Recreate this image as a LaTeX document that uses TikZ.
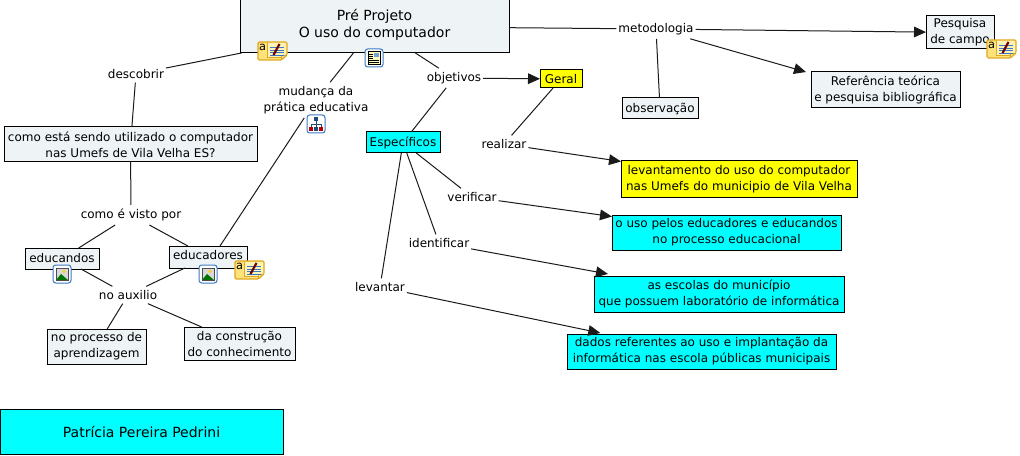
\documentclass[tikz,border=0pt]{standalone}
\usepackage{fontspec}
\setmainfont{DejaVu Sans}
\usetikzlibrary{arrows.meta}
\definecolor{mapfill}{HTML}{EEF4F6}
\definecolor{mapcyan}{HTML}{00FFFF}
\definecolor{mapyellow}{HTML}{FFFF00}
\definecolor{mapline}{HTML}{1A1A1A}
\definecolor{iconblue}{HTML}{3B78C4}
\definecolor{iconnote}{HTML}{FFE27A}
\definecolor{iconpale}{HTML}{FFF3B8}
\definecolor{iconedge}{HTML}{E0A820}
\tikzset{
  conceptbox/.style={draw=black, line width=0.75pt, rectangle, inner sep=0pt, align=center, outer sep=0pt,
    font=\fontsize{9}{12}\selectfont},
  paleconcept/.style={conceptbox, fill=mapfill},
  cyanconcept/.style={conceptbox, fill=mapcyan},
  yellowconcept/.style={conceptbox, fill=mapyellow},
  linkphrase/.style={align=center, inner xsep=1.5pt, inner ysep=3pt, outer sep=0pt, font=\fontsize{9}{12}\selectfont},
  plainlink/.style={draw=mapline, line width=0.75pt},
  arrowlink/.style={plainlink, -{Triangle[length=9pt,width=8pt]}},
  iconframe/.style={draw=iconblue, line width=0.75pt, fill=white, rounded corners=2pt}
}
\newcommand{\conceptnode}[7]{%
  \node[#6, minimum width={(#4-#2)*0.75pt}, minimum height={(#5-#3)*0.75pt}] (#1) at ({(#2+#4)/2},{(#3+#5)/2}) {#7};
}
\newcommand{\noteicon}[3]{%
  \begin{scope}[shift={(#2,#3)}]
    \fill[iconnote, draw=iconedge, line width=0.9pt, rounded corners=1pt] (-14.5,-9) -- (14.5,-9) -- (14.5,4) -- (9,9) -- (-14.5,9) -- cycle;
    \fill[iconpale] (-4.5,-8) -- (13.5,-8) -- (13.5,3.5) -- (8.5,6) -- (-4.5,6) -- cycle;
    \draw[iconedge, line width=0.6pt] (-5,-9) -- (-5,6) -- (9,6) (9,9) -- (9,4) -- (14.5,4);
    \foreach \yy in {-3.5,-1,1.5,4} {\draw[iconblue, line width=0.7pt] (-3,\yy) -- (11,\yy);}
    \draw[black!55!red, line width=1.6pt] (1,4) -- (7,-7);
    \node[font=\fontsize{8.5}{8.5}\selectfont, inner sep=0pt] (#1) at (-10,-3.5) {a};
  \end{scope}
}
\newcommand{\picicon}[2]{%
  \begin{scope}[shift={(#1,#2)}]
    \draw[iconframe] (-9,-9) rectangle (9,9);
    \fill[black!15] (-6,-6) rectangle (6,6);
    \fill[green!45!black] (-6,6) -- (-1,0) -- (6,6) -- cycle;
    \fill[yellow!70!orange] (2,-2.5) circle (1.6);
    \draw[black!70, line width=0.5pt] (-6,-6) rectangle (6,6);
  \end{scope}
}
\newcommand{\docicon}[2]{%
  \begin{scope}[shift={(#1,#2)}]
    \draw[iconframe] (-9,-9) rectangle (9,9);
    \draw[black, line width=0.6pt, fill=yellow!25] (-6,-6.5) rectangle (6,6.5);
    \fill[iconblue!70] (0,-5) rectangle (5,-1);
    \foreach \yy in {-4,-2,0} {\draw[black, line width=0.5pt] (-5,\yy) -- (-1,\yy);}
    \foreach \yy in {2,4} {\draw[black, line width=0.5pt] (-5,\yy) -- (5,\yy);}
  \end{scope}
}
\newcommand{\treeicon}[2]{%
  \begin{scope}[shift={(#1,#2)}]
    \draw[iconframe] (-9,-9) rectangle (9,9);
    \draw[iconblue!60!black, line width=0.6pt] (0,-4) -- (0,4) (-5,0) -- (5,0) (-5,0) -- (-5,4) (5,0) -- (5,4);
    \fill[iconblue!60!black] (-2,-7) rectangle (2,-3);
    \fill[red!70!black] (-7,3) rectangle (-3,7);
    \fill[iconblue!60!black] (-2,3) rectangle (2,7);
    \fill[red!70!black] (3,3) rectangle (7,7);
  \end{scope}
}

\begin{document}
\begin{tikzpicture}[x=0.75pt, y=-0.75pt]
  \useasboundingbox (0,0) rectangle (1020,456);

  \conceptnode{main}{240}{0}{509}{53}{paleconcept, font=\fontsize{10.5}{12.9}\selectfont}{Pré Projeto\\O uso do computador\rule[-5.2pt]{0pt}{0pt}}
  \conceptnode{campo}{926}{16}{994}{49}{paleconcept}{Pesquisa\\de campo}
  \conceptnode{referencia}{811}{72}{960}{108}{paleconcept}{Referência teórica\\e pesquisa bibliográfica}
  \conceptnode{observacao}{622}{98}{698}{119}{paleconcept}{observação}
  \conceptnode{geral}{540}{70}{582}{88}{yellowconcept}{Geral}
  \conceptnode{especificos}{366}{132}{440}{153}{cyanconcept}{Específicos}
  \conceptnode{pergunta}{4}{127}{257}{162}{paleconcept}{como está sendo utilizado o computador\\nas Umefs de Vila Velha ES?}
  \conceptnode{educandos}{25}{248}{99}{269}{paleconcept}{educandos}
  \conceptnode{educadores}{169}{246}{247}{268}{paleconcept}{educadores\rule[-3.8pt]{0pt}{0pt}}
  \conceptnode{processo}{47}{329}{146}{364}{paleconcept}{no processo de\\aprendizagem}
  \conceptnode{construcao}{184}{327}{295}{360}{paleconcept}{da construção\\do conhecimento}
  \conceptnode{levantamento}{621}{161}{857}{197}{yellowconcept}{levantamento do uso do computador\\nas Umefs do municipio de Vila Velha}
  \conceptnode{usopelos}{612}{215}{841}{250}{cyanconcept}{o uso pelos educadores e educandos\\no processo educacional}
  \conceptnode{escolas}{594}{276}{844}{312}{cyanconcept}{as escolas do município\\que possuem laboratório de informática}
  \conceptnode{dados}{567}{334}{836}{369}{cyanconcept}{dados referentes ao uso e implantação da\\informática nas escola públicas municipais}
  \conceptnode{autora}{0}{409}{283}{454}{cyanconcept, font=\fontsize{10.5}{12.9}\selectfont}{Patrícia Pereira Pedrini}

  \node[linkphrase] (metodologia) at (656,29) {metodologia};
  \node[linkphrase] (objetivos) at (454,78) {objetivos};
  \node[linkphrase] (mudanca) at (316,100) {mudança da\\prática educativa};
  \node[linkphrase] (descobrir) at (136,74) {descobrir};
  \node[linkphrase] (visto) at (131,215) {como é visto por};
  \node[linkphrase] (auxilio) at (128,295) {no auxilio};
  \node[linkphrase] (realizar) at (504,144) {realizar};
  \node[linkphrase] (verificar) at (472,197) {verificar};
  \node[linkphrase] (identificar) at (439,243) {identificar};
  \node[linkphrase] (levantar) at (380,287) {levantar};

  \path[plainlink] (main) -- (metodologia);
  \path[arrowlink] (metodologia) -- (campo);
  \path[arrowlink] (metodologia) -- ([xshift=-3.75pt]referencia.north west);
  \path[plainlink] (metodologia) -- (observacao);
  \path[plainlink] (main) -- (descobrir);
  \path[plainlink] (descobrir) -- (pergunta);
  \path[plainlink] (pergunta) -- (visto);
  \path[plainlink] (visto) -- (educandos);
  \path[plainlink] (visto) -- (educadores);
  \path[plainlink] (educandos) -- (auxilio);
  \path[plainlink] (educadores) -- (auxilio);
  \path[plainlink] (auxilio) -- (processo);
  \path[plainlink] (auxilio) -- (construcao);
  \path[plainlink] (main) -- (mudanca);
  \path[plainlink] (mudanca) -- ([xshift=9pt]educadores.north);
  \path[plainlink] (main) -- (objetivos);
  \path[arrowlink] (objetivos) -- (geral);
  \path[plainlink] (objetivos) -- (especificos);
  \path[plainlink] (geral) -- (realizar);
  \path[arrowlink] (realizar) -- (levantamento);
  \path[plainlink] (especificos) -- (verificar);
  \path[arrowlink] (verificar) -- (usopelos);
  \path[plainlink] (especificos) -- (identificar);
  \path[arrowlink] (identificar) -- ([xshift=10.5pt,yshift=1.5pt]escolas.north west);
  \path[plainlink] (especificos) -- (levantar);
  \path[arrowlink] (levantar) -- ([xshift=25pt,yshift=0.75pt]dados.north west);

  \noteicon{notemain}{272.5}{51}
  \noteicon{noteeducadores}{249.5}{270}
  \noteicon{notecampo}{1001.5}{49}
  \docicon{374}{58}
  \treeicon{316}{124}
  \picicon{62}{274}
  \picicon{208}{274}

\end{tikzpicture}
\end{document}
